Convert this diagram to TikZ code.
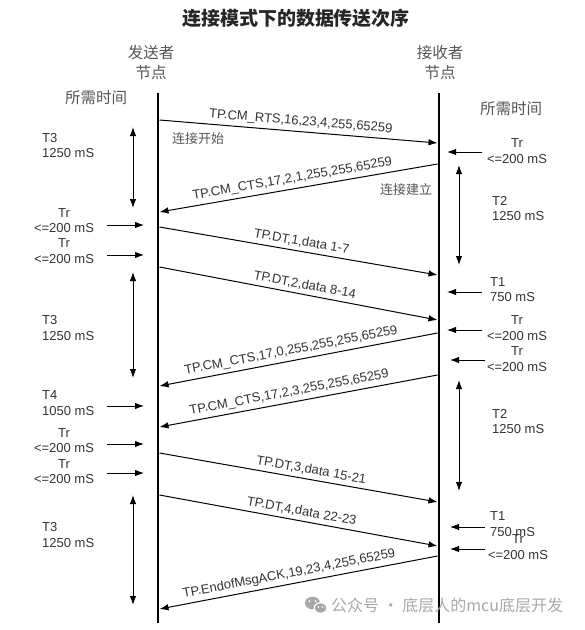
\documentclass[tikz,border=0pt]{standalone}
\usepackage{fontspec}
\setmainfont{Liberation Sans}
\newfontfamily\cjk{Noto Sans CJK SC}
\usetikzlibrary{arrows.meta}
\definecolor{txt}{HTML}{333333}
\definecolor{cngray}{HTML}{555555}
\definecolor{wm}{HTML}{A8A8A8}
\begin{document}
\begin{tikzpicture}[x=1pt,y=-1pt,
  tip/.style={-{Latex[length=9pt,width=6.5pt]}},
  msg/.style={line width=1pt, tip},
  tick/.style={line width=1pt, tip},
  span/.style={line width=1pt, {Latex[length=9pt,width=6.5pt]}-{Latex[length=9pt,width=6.5pt]}},
  life/.style={line width=2.8pt},
  lbl/.style={font=\fontsize{13}{15.5}\selectfont, text=txt, inner sep=0pt},
  lblc/.style={lbl, align=center},
  lbll/.style={lbl, align=left, anchor=west},
  cn/.style={font=\cjk\fontsize{13}{18}\selectfont, text=cngray, inner sep=0pt, align=center},
  cnh/.style={font=\cjk\fontsize{15.5}{20}\selectfont, text=cngray, inner sep=0pt, align=center},
  mlab/.style={sloped, above, inner sep=3.5pt, font=\fontsize{13}{15}\selectfont, text=txt}
]
\useasboundingbox (0,0) rectangle (585,630);

% title and headers
\node[font=\cjk\bfseries\fontsize{19}{22}\selectfont, text=black!85] (title) at (296,18) {连接模式下的数据传送次序};
\node[cnh] (snd) at (151,63) {发送者\\节点};
\node[cnh] (rcv) at (440,63) {接收者\\节点};
\node[cnh] (tl) at (96,98) {所需时间};
\node[cnh] (tr) at (511,109) {所需时间};

% lifelines
\coordinate (Ltop) at (158,93);
\coordinate (Lbot) at (158,623);
\coordinate (Rtop) at (439,93);
\coordinate (Rbot) at (439,623);
\draw[life] (Ltop) -- (Lbot);
\draw[life] (Rtop) -- (Rbot);

% message end points
\coordinate (m1a) at (159.5,120); \coordinate (m1b) at (437.5,143);
\coordinate (m2a) at (437.5,164); \coordinate (m2b) at (159.5,212);
\coordinate (m3a) at (159.5,227); \coordinate (m3b) at (437.5,275);
\coordinate (m4a) at (159.5,267); \coordinate (m4b) at (437.5,320);
\coordinate (m5a) at (437.5,333); \coordinate (m5b) at (159.5,386);
\coordinate (m6a) at (437.5,375); \coordinate (m6b) at (159.5,427);
\coordinate (m7a) at (159.5,453); \coordinate (m7b) at (437.5,502);
\coordinate (m8a) at (159.5,495); \coordinate (m8b) at (437.5,546);
\coordinate (m9a) at (437.5,556); \coordinate (m9b) at (159.5,609);

\draw[msg] (m1a) -- node[mlab, pos=0.505] (l1) {TP.CM\_RTS,16,23,4,255,65259} (m1b);
\draw[msg] (m2a) -- node[mlab, pos=0.516] (l2) {TP.CM\_CTS,17,2,1,255,255,65259} (m2b);
\draw[msg] (m3a) -- node[mlab, pos=0.505] (l3) {TP.DT,1,data 1-7} (m3b);
\draw[msg] (m4a) -- node[mlab, pos=0.516] (l4) {TP.DT,2,data 8-14} (m4b);
\draw[msg] (m5a) -- node[mlab, pos=0.52] (l5) {TP.CM\_CTS,17,0,255,255,255,65259} (m5b);
\draw[msg] (m6a) -- node[mlab, pos=0.527] (l6) {TP.CM\_CTS,17,2,3,255,255,65259} (m6b);
\draw[msg] (m7a) -- node[mlab, pos=0.54] (l7) {TP.DT,3,data 15-21} (m7b);
\draw[msg] (m8a) -- node[mlab, pos=0.505] (l8) {TP.DT,4,data 22-23} (m8b);
\draw[msg] (m9a) -- node[mlab, pos=0.527] (l9) {TP.EndofMsgACK,19,23,4,255,65259} (m9b);

\node[cn] (start) at (198,139) {连接开始};
\node[cn] (estab) at (406,190) {连接建立};

% left annotations
\node[lbll] (a1) at (42,145.5) {T3\\1250 mS};
\node[lblc] (a2) at (64,220.5) {Tr\\<=200 mS};
\node[lblc] (a3) at (64,251) {Tr\\<=200 mS};
\node[lbll] (a4) at (42,328) {T3\\1250 mS};
\node[lbll] (a5) at (42,403) {T4\\1050 mS};
\node[lblc] (a6) at (64,440.5) {Tr\\<=200 mS};
\node[lblc] (a7) at (64,471.5) {Tr\\<=200 mS};
\node[lbll] (a8) at (42,535) {T3\\1250 mS};

\coordinate (s1a) at (133,127); \coordinate (s1b) at (133,208);
\coordinate (s2a) at (133,272); \coordinate (s2b) at (133,378);
\coordinate (s3a) at (133,495); \coordinate (s3b) at (133,605);
\draw[span] (s1a) -- (s1b);
\draw[span] (s2a) -- (s2b);
\draw[span] (s3a) -- (s3b);

\coordinate (t1a) at (107,225); \coordinate (t1b) at (144,225);
\coordinate (t2a) at (107,255); \coordinate (t2b) at (144,255);
\coordinate (t3a) at (107,406); \coordinate (t3b) at (144,406);
\coordinate (t4a) at (107,444); \coordinate (t4b) at (144,444);
\coordinate (t5a) at (107,473); \coordinate (t5b) at (144,473);
\draw[tick] (t1a) -- (t1b);
\draw[tick] (t2a) -- (t2b);
\draw[tick] (t3a) -- (t3b);
\draw[tick] (t4a) -- (t4b);
\draw[tick] (t5a) -- (t5b);

% right annotations
\node[lblc] (b1) at (517,151) {Tr\\<=200 mS};
\node[lbll] (b2) at (492,208.5) {T2\\1250 mS};
\node[lbll] (b3) at (490,289.5) {T1\\750 mS};
\node[lblc] (b4) at (517,328) {Tr\\<=200 mS};
\node[lblc] (b5) at (517,359) {Tr\\<=200 mS};
\node[lbll] (b6) at (492,421.5) {T2\\1250 mS};
\node[lbll] (b7) at (490,524) {T1\\750 mS};
\node[lblc] (b8) at (518,547) {Tr\\<=200 mS};

\coordinate (r1a) at (459,165); \coordinate (r1b) at (459,265);
\coordinate (r2a) at (459,380); \coordinate (r2b) at (459,491);
\draw[span] (r1a) -- (r1b);
\draw[span] (r2a) -- (r2b);

\coordinate (u1a) at (482,152); \coordinate (u1b) at (447,152);
\coordinate (u2a) at (482,292); \coordinate (u2b) at (447,292);
\coordinate (u3a) at (482,330); \coordinate (u3b) at (447,330);
\coordinate (u4a) at (485,360); \coordinate (u4b) at (450,360);
\coordinate (u5a) at (485,527); \coordinate (u5b) at (450,527);
\coordinate (u6a) at (485,549); \coordinate (u6b) at (450,549);
\draw[tick] (u1a) -- (u1b);
\draw[tick] (u2a) -- (u2b);
\draw[tick] (u3a) -- (u3b);
\draw[tick] (u4a) -- (u4b);
\draw[tick] (u5a) -- (u5b);
\draw[tick] (u6a) -- (u6b);

% watermark
\fill[wm] (312.5,603) ellipse [x radius=7.5pt, y radius=6.3pt];
\draw[white, line width=1.2pt, fill=wm] (320.5,608) ellipse [x radius=6.3pt, y radius=5.3pt];
\fill[white] (309.5,601) circle (1pt) (315.5,601) circle (1pt) (318.5,607) circle (0.8pt) (322.5,607) circle (0.8pt);
\node[font=\cjk\fontsize{16}{18}\selectfont, text=wm, anchor=west, inner sep=0pt] (wmark) at (331,605) {公众号 · 底层人的mcu底层开发};
\end{tikzpicture}
\end{document}
